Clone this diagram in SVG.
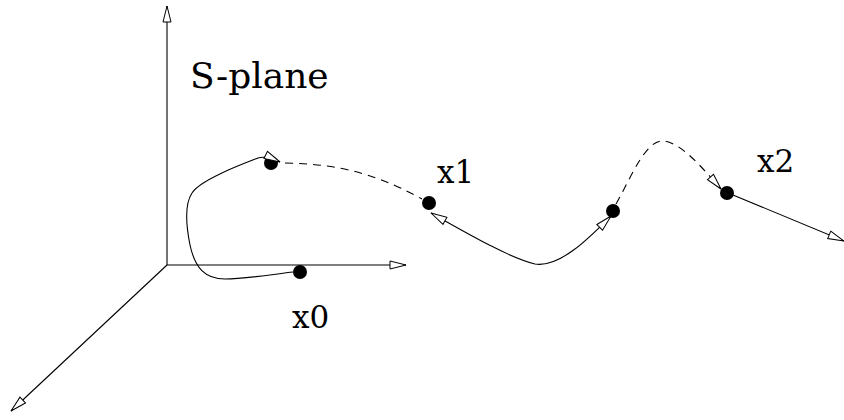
<svg xmlns="http://www.w3.org/2000/svg" width="844" height="420" viewBox="0 0 844 420">
<style>
.ln{fill:none;stroke:#000;stroke-width:1.1}
.dash{stroke-dasharray:8 6}
.dot{fill:#000}
</style>
<defs>
<marker id="ah" markerUnits="userSpaceOnUse" markerWidth="18" markerHeight="10" refX="17" refY="4.5" orient="auto-start-reverse" overflow="visible">
<path d="M1,0.5 L17,4.5 L1,8.5 Z" fill="#fff" stroke="#000" stroke-width="1"/>
</marker>
</defs>
<rect width="844" height="420" fill="#fff"/>
<g id="axes-label"><text x="190" y="88" font-size="36" font-family="'DejaVu Serif', serif">S-plane</text></g>
<g id="n-start"><circle class="dot" cx="271" cy="163" r="7"/></g>
<g id="x0"><circle class="dot" cx="300" cy="272" r="7"/><text x="292" y="328" font-size="31" font-family="'DejaVu Serif', serif">x0</text></g>
<g id="x1"><circle class="dot" cx="429" cy="203" r="7"/><text x="437" y="183" font-size="31" font-family="'DejaVu Serif', serif">x1</text></g>
<g id="n-mid"><circle class="dot" cx="613" cy="211" r="7"/></g>
<g id="x2"><circle class="dot" cx="727" cy="193" r="7"/><text x="757" y="172" font-size="31" font-family="'DejaVu Serif', serif">x2</text></g>
<g id="connectors">
<path class="ln" d="M167,265 L167,6" marker-end="url(#ah)"/>
<path class="ln" d="M167,265 L406,265" marker-end="url(#ah)"/>
<path class="ln" d="M167,265 L11,411" marker-end="url(#ah)"/>
<path class="ln" d="M293,272 C275,274 245,279 225,279 C205,279 195,268 190,245 C186,225 184,205 192,193 C200,180 240,165 258,158 C265,156 272,158 280,162" marker-end="url(#ah)"/>
<path class="ln dash" d="M285,163 C330,164 370,170 422,199"/>
<path class="ln" d="M431,213 C470,235 510,258 535,264 C560,268 590,237 611,216" marker-start="url(#ah)" marker-end="url(#ah)"/>
<path class="ln dash" d="M616,204 C630,180 645,140 663,141 C680,142 700,165 721,189" marker-end="url(#ah)"/>
<path class="ln" d="M733,195 L844,241" marker-end="url(#ah)"/>
</g>
</svg>
